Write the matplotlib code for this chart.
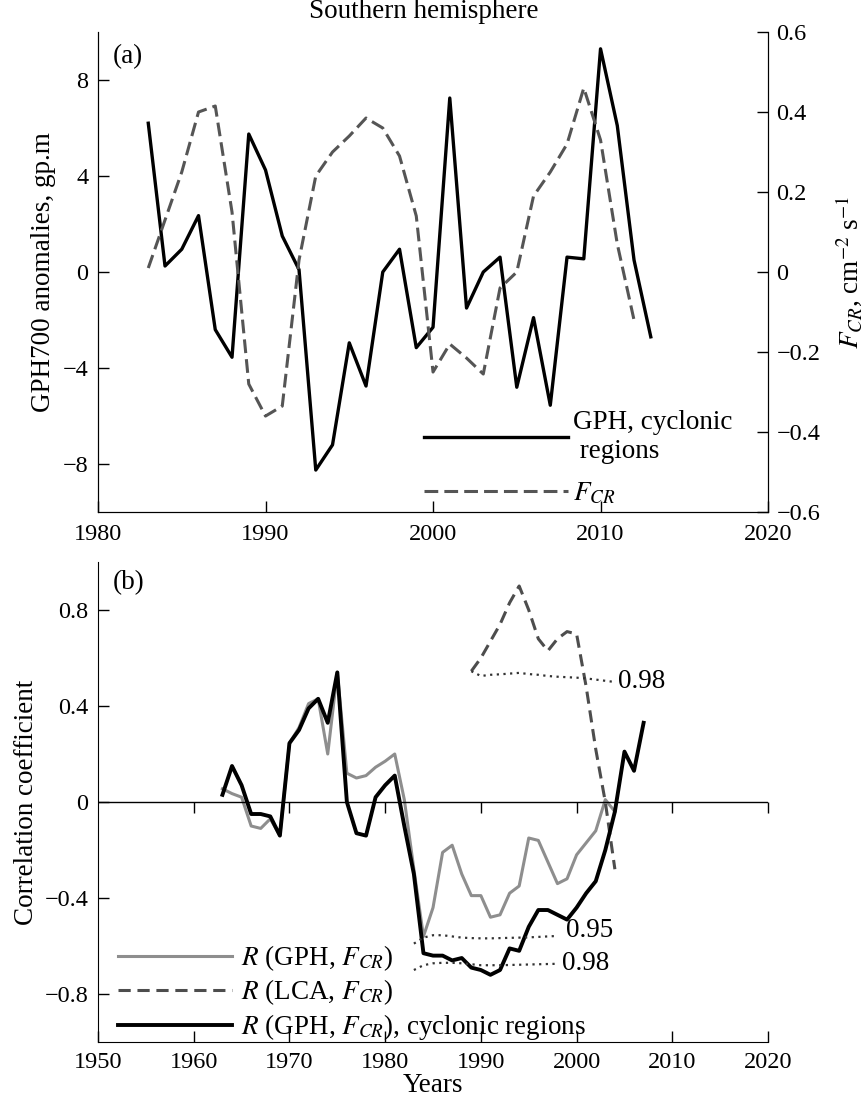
import matplotlib
matplotlib.use("Agg")
import matplotlib.pyplot as plt
import matplotlib.markers as mmarkers
from matplotlib.ticker import FuncFormatter

plt.rcParams['font.family'] = ['Liberation Serif', 'DejaVu Serif']
plt.rcParams['mathtext.fontset'] = 'stix'
plt.rcParams['font.size'] = 19.5
TICK_FS = 17.5

# ---- panel (a): GPH700 anomalies and F_CR ----
years_gph = list(range(1983, 2014))
gph_cyclonic = [6.2, 0.25, 0.95, 2.35, -2.4, -3.55, 5.75, 4.25, 1.5, 0.1,
                -8.25, -7.2, -2.95, -4.75, 0.0, 0.95, -3.15, -2.3, 7.25, -1.5,
                0.0, 0.62, -4.8, -1.9, -5.55, 0.62, 0.55, 9.3, 6.1, 0.5, -2.7]
years_fcr = list(range(1983, 2013))
fcr = [0.01, 0.13, 0.25, 0.40, 0.415, 0.15, -0.28, -0.36, -0.335, 0.03,
       0.24, 0.30, 0.34, 0.385, 0.36, 0.29, 0.14, -0.25, -0.18, -0.215,
       -0.255, -0.04, 0.0, 0.19, 0.25, 0.32, 0.46, 0.33, 0.07, -0.12]

# ---- panel (b): running correlation coefficients ----
years_r = list(range(1963, 2008))
r_gph = [0.055, 0.035, 0.02, -0.10, -0.11, -0.07, -0.14, 0.245, 0.31, 0.41,
         0.43, 0.20, 0.54, 0.12, 0.10, 0.11, 0.145, 0.17, 0.20, 0.01,
         -0.28, -0.56, -0.44, -0.21, -0.18, -0.30, -0.39, -0.39, -0.48, -0.47,
         -0.38, -0.35, -0.15, -0.16, -0.25, -0.34, -0.32, -0.22, -0.17, -0.12,
         0.01, -0.04]
r_gph_cyc = [0.03, 0.15, 0.07, -0.05, -0.05, -0.06, -0.14, 0.245, 0.30, 0.39,
             0.43, 0.33, 0.54, 0.0, -0.13, -0.14, 0.02, 0.07, 0.11, -0.10,
             -0.30, -0.63, -0.64, -0.64, -0.66, -0.65, -0.69, -0.70, -0.72, -0.70,
             -0.61, -0.62, -0.52, -0.45, -0.45, -0.47, -0.49, -0.44, -0.38, -0.33,
             -0.20, -0.04, 0.21, 0.13, 0.33]
years_lca = list(range(1989, 2005))
r_lca = [0.545, 0.60, 0.67, 0.74, 0.83, 0.90, 0.80, 0.68, 0.63, 0.68,
         0.71, 0.70, 0.48, 0.22, 0.0, -0.28]
sig_lca_98 = [0.545, 0.525, 0.53, 0.532, 0.535, 0.538, 0.533, 0.53, 0.525, 0.522,
              0.52, 0.518, 0.515, 0.51, 0.505, 0.50]
years_sig = list(range(1983, 1999))
sig_gph_95 = [-0.59, -0.565, -0.555, -0.555, -0.56, -0.565, -0.567, -0.568,
              -0.568, -0.567, -0.566, -0.565, -0.564, -0.562, -0.56, -0.558]
sig_gph_98 = [-0.70, -0.68, -0.672, -0.67, -0.67, -0.672, -0.676, -0.68,
              -0.68, -0.68, -0.679, -0.678, -0.677, -0.676, -0.675, -0.674]


def fmt(v, pos):
    return f"{round(v, 1) + 0:g}".replace('-', '\u2212')


fig = plt.figure(figsize=(8.62, 11), dpi=100)
ax_a = fig.add_axes([0.1137, 0.5345, 0.7773, 0.4364])
ax_b = fig.add_axes([0.1137, 0.0527, 0.7773, 0.4364])

# panel (a)
ax_a.plot(years_gph, gph_cyclonic, color='black', lw=2.4, label='GPH, cyclonic\n regions')
ax_a.set_xlim(1980, 2020)
ax_a.set_ylim(-10, 10)
ax_a.set_yticks([-8, -4, 0, 4, 8])
ax_a.set_xticks([1980, 1990, 2000, 2010, 2020])
ax_a.yaxis.set_major_formatter(FuncFormatter(fmt))
ax_a.spines['top'].set_visible(False)
ax_a.tick_params(direction='in', length=8, width=1, labelsize=TICK_FS)
ax_a.tick_params(axis='x', pad=8.5)
ax_a.tick_params(axis='y', pad=7)
ax_a.set_ylabel('GPH700 anomalies, gp.m', labelpad=5)

ax_r = ax_a.twinx()
ax_r.plot(years_fcr, fcr, color='#555555', lw=2.2, dashes=(4.5, 2), label=r'$F_{CR}$')
ax_r.set_ylim(-0.6, 0.6)
ax_r.set_yticks([-0.6, -0.4, -0.2, 0, 0.2, 0.4, 0.6])
ax_r.yaxis.set_major_formatter(FuncFormatter(fmt))
ax_r.spines['top'].set_visible(False)
ax_r.tick_params(direction='in', length=8, width=1, pad=6, labelsize=TICK_FS)
ax_r.set_ylabel(r'$F_{CR}$, cm$^{-2}$ s$^{-1}$', labelpad=9)

h1, l1 = ax_a.get_legend_handles_labels()
h2, l2 = ax_r.get_legend_handles_labels()
ax_r.legend(h1 + h2, l1 + l2, loc='lower left', bbox_to_anchor=(0.487, 0.0125),
            frameon=False, borderpad=0, borderaxespad=0, handlelength=5.3,
            handletextpad=0.18, labelspacing=0.62)

ax_a.text(0.022, 0.948, '(a)', transform=ax_a.transAxes, va='center', ha='left')
fig.text(424 / 862, 1 - 11 / 1100, 'Southern hemisphere', ha='center', va='center')

# panel (b)
ax_b.plot(years_r[:len(r_gph)], r_gph, color='#8e8e8e', lw=2.2, label=r'$R$ (GPH, $F_{CR}$)')
ax_b.plot(years_lca, r_lca, color='#4d4d4d', lw=2.2, dashes=(4, 2.2), label=r'$R$ (LCA, $F_{CR}$)')
ax_b.plot(years_r, r_gph_cyc, color='black', lw=2.8, label=r'$R$ (GPH, $F_{CR}$), cyclonic regions')
ax_b.plot(years_lca, sig_lca_98, color='#333333', lw=1.6, ls=(0, (1, 2)))
ax_b.plot(years_sig, sig_gph_95, color='#333333', lw=1.6, ls=(0, (1, 2)))
ax_b.plot(years_sig, sig_gph_98, color='#333333', lw=1.6, ls=(0, (1, 2)))
ax_b.annotate('0.98', (years_lca[-1], sig_lca_98[-1]), xytext=(2, 0),
              textcoords='offset points', va='center', ha='left')
ax_b.annotate('0.95', (years_sig[-1], sig_gph_95[-1]), xytext=(6, 4),
              textcoords='offset points', va='center', ha='left')
ax_b.annotate('0.98', (years_sig[-1], sig_gph_98[-1]), xytext=(3, 0),
              textcoords='offset points', va='center', ha='left')

ax_b.set_xlim(1950, 2020)
ax_b.set_ylim(-1, 1)
xt = list(range(1950, 2021, 10))
ax_b.set_xticks(xt)
ax_b.set_yticks([-0.8, -0.4, 0, 0.4, 0.8])
ax_b.yaxis.set_major_formatter(FuncFormatter(fmt))
ax_b.spines['top'].set_visible(False)
ax_b.spines['right'].set_visible(False)
ax_b.tick_params(direction='in', length=8, width=1, labelsize=TICK_FS)
ax_b.tick_params(axis='x', pad=7.5)
ax_b.tick_params(axis='y', pad=7)
# zero line with downward ticks
ax_b.axhline(0, color='black', lw=1)
ax_b.plot(xt[1:], [0] * len(xt[1:]), ls='none', marker=mmarkers.TICKDOWN,
          ms=8, mew=1, color='black', clip_on=False)
ax_b.set_ylabel('Correlation coefficient', labelpad=4)
ax_b.set_xlabel('Years', labelpad=0)
ax_b.legend(loc='lower left', bbox_to_anchor=(0.03, 0.0), frameon=False,
            borderpad=0, borderaxespad=0, handlelength=4.2, handletextpad=0.33,
            labelspacing=0.17)
ax_b.text(0.022, 0.956, '(b)', transform=ax_b.transAxes, va='center', ha='left')

fig.savefig('out.png', dpi=100)
